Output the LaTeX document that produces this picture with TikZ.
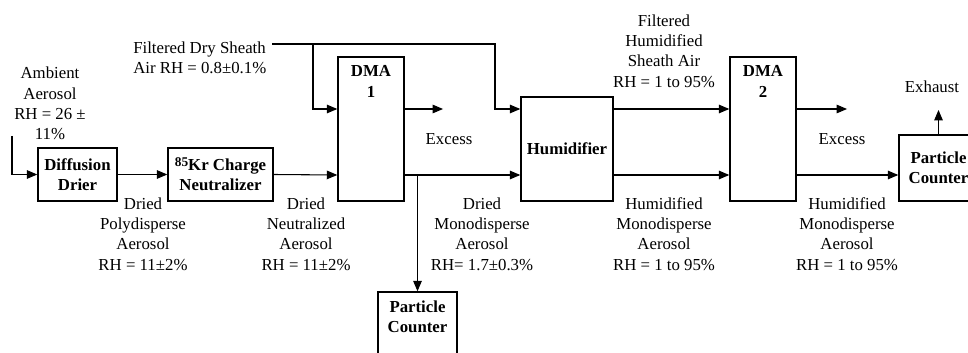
\documentclass[tikz,border=0pt]{standalone}
\usepackage{fontspec}
\setmainfont{Liberation Serif}
\usetikzlibrary{arrows}
\usetikzlibrary{positioning}

\newcommand{\basefont}{\fontsize{12.6}{15.2}\selectfont}

\tikzset{
	unit/.style={draw, line width=1.1pt, align=center, font=\basefont\bfseries, inner sep=1pt},
	note/.style={align=center, inner sep=0pt, font=\basefont},
	flow/.style={line width=0.8pt, ->, >=triangle 45},
	pipe/.style={line width=0.8pt}
}

\begin{document}
\begin{tikzpicture}[x=0.75pt, y=-0.75pt]

	\useasboundingbox (0,0) rectangle (968,353);
	\clip (0,0) rectangle (968,353);

	% rows of the two streams
	\coordinate (rowA) at (0,109);
	\coordinate (rowB) at (0,175);

	% Our Blocks (sizes in px, hence *0.75)
	\node[unit, minimum width=79*0.75, minimum height=53*0.75] (drier) at (77.5,174.5) {Diffusion\\Drier};
	\node[unit, minimum width=105*0.75, minimum height=53*0.75] (kr) at (220.5,174.5) {\raisebox{0.45ex}{\fontsize{10}{10}\selectfont 85}Kr Charge\\Neutralizer};
	\node[unit, minimum width=66*0.75, minimum height=144*0.75,
		label={[note, font=\basefont\bfseries, anchor=north, yshift=-7]north:DMA\\1}] (dma1) at (371,129) {};
	\node[unit, minimum width=92*0.75, minimum height=104*0.75] (hum) at (567,149) {Humidifier};
	\node[unit, minimum width=66*0.75, minimum height=144*0.75,
		label={[note, font=\basefont\bfseries, anchor=north, yshift=-7]north:DMA\\2}] (dma2) at (763,129) {};
	\node[unit, minimum width=79*0.75, minimum height=90*0.75,
		label={[note, font=\basefont\bfseries, anchor=north, yshift=-7]north:Particle\\Counter}] (pc1) at (417.5,337) {};
	\node[unit, minimum width=79*0.75, minimum height=66*0.75] (pc2) at (938.5,168) {Particle\\Counter};

	% free ends
	\coordinate (in) at (12,136);
	\coordinate (sh) at (272,44);
	\coordinate (b1) at (313,44);
	\coordinate (b2) at (495,44);
	\coordinate (ex1) at (443,109);
	\coordinate (ex2) at (847,109);
	\coordinate (exh) at (938.5,110);

	% flows
	\draw[flow] (in) |- (drier.west);
	\draw[flow] (drier.east) -- (kr.west);
	\draw[flow] (kr.east) -- (rowB -| dma1.west);
	\draw[flow] (sh) -- (b2) |- (rowA -| hum.west);
	\draw[flow] (b1) |- (rowA -| dma1.west);
	\draw[flow] (rowA -| dma1.east) -- (ex1);
	\draw[flow] (rowB -| dma1.east) -- (rowB -| hum.west);
	\draw[flow] (rowB -| pc1.north) -- (pc1.north);
	\draw[flow] (rowA -| hum.east) -- (rowA -| dma2.west);
	\draw[flow] (rowB -| hum.east) -- (rowB -| dma2.west);
	\draw[flow] (rowA -| dma2.east) -- (ex2);
	\draw[flow] (rowB -| dma2.east) -- (rowB -| pc2.west);
	\draw[flow] (pc2.north) -- (exh);

	% labels
	\node[note] (ambient) at (50,103.5) {Ambient\\Aerosol\\RH = 26 ±\\11\%};
	\node[note, align=left, anchor=west] (sheath) at (133,57.5) {Filtered Dry Sheath\\Air RH = 0.8±0.1\%};
	\node[note] (poly) at (143,234) {Dried\\Polydisperse\\Aerosol\\RH = 11±2\%};
	\node[note] (neut) at (306,234) {Dried\\Neutralized\\Aerosol\\RH = 11±2\%};
	\node[note] (mono) at (482,234) {Dried\\Monodisperse\\Aerosol\\RH= 1.7±0.3\%};
	\node[note] (humsheath) at (664,51) {Filtered\\Humidified\\Sheath Air\\RH = 1 to 95\%};
	\node[note] (hummono) at (664,234) {Humidified\\Monodisperse\\Aerosol\\RH = 1 to 95\%};
	\node[note] (hummono2) at (847,234) {Humidified\\Monodisperse\\Aerosol\\RH = 1 to 95\%};
	\node[note] (excess1) at (449,139) {Excess};
	\node[note] (excess2) at (842,139) {Excess};
	\node[note] (exhaust) at (932,87) {Exhaust};

\end{tikzpicture}
\end{document}
